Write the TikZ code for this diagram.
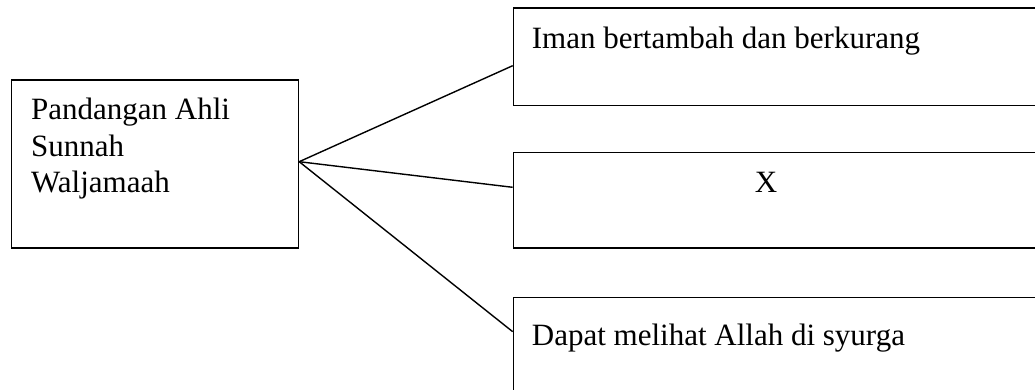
\documentclass[tikz,border=0pt]{standalone}
\usepackage{fontspec}
\setmainfont{Liberation Serif}
\usetikzlibrary{calc}
\begin{document}
\begin{tikzpicture}[x=1pt,y=-1pt,
  box/.style={draw, line width=1.5pt, rectangle, inner sep=0pt, anchor=north west},
  lbl/.style={anchor=base west, inner sep=0pt, font=\fontsize{31}{36.7}\selectfont},
  conn/.style={line width=1.4pt}]
\useasboundingbox (0,0) rectangle (1035,390);
\clip (0,0) rectangle (1035,390);
% boxes
\node[box, minimum width=287pt, minimum height=168pt] (L) at (10.7,79.3) {};
\node[box, minimum width=560pt, minimum height=97.7pt] (B1) at (512.7,7.3) {};
\node[box, minimum width=560pt, minimum height=95.6pt] (B2) at (512.7,151.7) {};
\node[box, minimum width=560pt, minimum height=140pt] (B3) at (512.7,296.7) {};
% labels
\node[lbl, align=left] (tL) at (31,192.7) {Pandangan Ahli\\Sunnah\\Waljamaah};
\node[lbl] (t1) at (531.7,48.3) {Iman bertambah dan berkurang};
\node[lbl, anchor=base] (t2) at (766,192.3) {X};
\node[lbl] (t3) at (531.7,345) {Dapat melihat Allah di syurga};
% connectors
\coordinate (J) at ($(L.north east)+(0,82.4)$);
\draw[conn] (J) -- ($(B1.north west)+(0,58.4)$);
\draw[conn] (J) -- ($(B2.north west)+(0,35.6)$);
\draw[conn] (J) -- ($(B3.north west)+(0,35)$);
\end{tikzpicture}
\end{document}
